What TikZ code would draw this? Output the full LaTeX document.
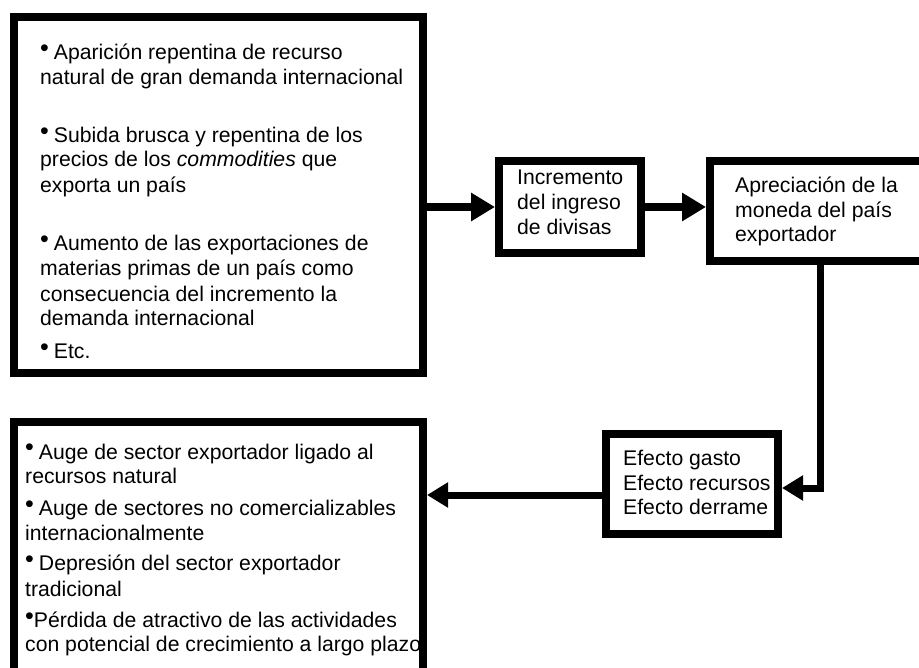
\documentclass[tikz,border=0pt]{standalone}
\usepackage{fontspec}
\setmainfont{Liberation Sans}
\usetikzlibrary{arrows.meta}
\newcommand\bul{\raisebox{3pt}{\fontsize{25}{25}\selectfont •}}
\begin{document}
\begin{tikzpicture}[x=1pt,y=-1pt,
  txt/.style={anchor=base west,inner sep=0pt,font=\fontsize{21.2}{25}\selectfont},
  box/.style={draw=black,line width=8pt,inner sep=0pt},
  flow/.style={line width=8pt,-{Triangle[length=24pt,width=27pt]}},
  flowb/.style={line width=7pt,-{Triangle[length=21pt,width=24pt]}}]
\clip (0,0) rectangle (919,668);
% texts of the top-left box
\foreach \yy/\lbl [count=\i] in {
  60/{\bul\hspace{5pt}Aparición repentina de recurso},
  85/{natural de gran demanda internacional},
  143/{\bul\hspace{5pt}Subida brusca y repentina de los},
  167/{precios de los {\itshape commodities} que},
  193/{exporta un país},
  251/{\bul\hspace{5pt}Aumento de las exportaciones de},
  276/{materias primas de un país como},
  302/{consecuencia del incremento la},
  326/{demanda internacional},
  359/{\bul\hspace{5pt}Etc.}}
  \node[txt] (ta\i) at (40,\yy) {\lbl};
% texts of the bottom-left box
\foreach \yy/\lbl [count=\i] in {
  459/{\bul\hspace{5pt}Auge de sector exportador ligado al},
  483/{recursos natural},
  515/{\bul\hspace{5pt}Auge de sectores no comercializables},
  540/{internacionalmente},
  570/{\bul\hspace{5pt}Depresión del sector exportador},
  596/{tradicional},
  627/{\bul Pérdida de atractivo de las actividades},
  651/{con potencial de crecimiento a largo plazo}}
  \node[txt] (te\i) at (25,\yy) {\lbl};
% middle boxes texts
\foreach \yy/\lbl [count=\i] in {185/Incremento, 210/del ingreso, 235/de divisas}
  \node[txt] (tb\i) at (517,\yy) {\lbl};
\foreach \yy/\lbl [count=\i] in {193/Apreciación de la, 218/moneda del país, 242/exportador}
  \node[txt] (tc\i) at (735,\yy) {\lbl};
\foreach \yy/\lbl [count=\i] in {465/Efecto gasto, 490/Efecto recursos, 514/Efecto derrame}
  \node[txt] (td\i) at (623,\yy) {\lbl};
% boxes
\node[box,minimum width=409pt,minimum height=356pt] (A) at (218.5,195) {};
\node[box,minimum width=142pt,minimum height=92pt] (B) at (570,207) {};
\node[box,minimum width=230pt,minimum height=100pt] (C) at (825,211) {};
\node[box,minimum width=172pt,minimum height=100pt] (D) at (692,484) {};
\node[box,minimum width=409pt,minimum height=298pt] (E) at (218.5,571) {};
% connectors
\coordinate (k) at (820,488);
\coordinate (m) at (500,495);
\draw[flow] (A.east |- B.west) -- (B.west);
\draw[flow] (B.east) -- (B.east -| C.west);
\draw[flowb] (C.south -| k) -- (k) -- (k -| D.east);
\draw[flowb] (D.west |- m) -- (E.east |- m);
\end{tikzpicture}
\end{document}
